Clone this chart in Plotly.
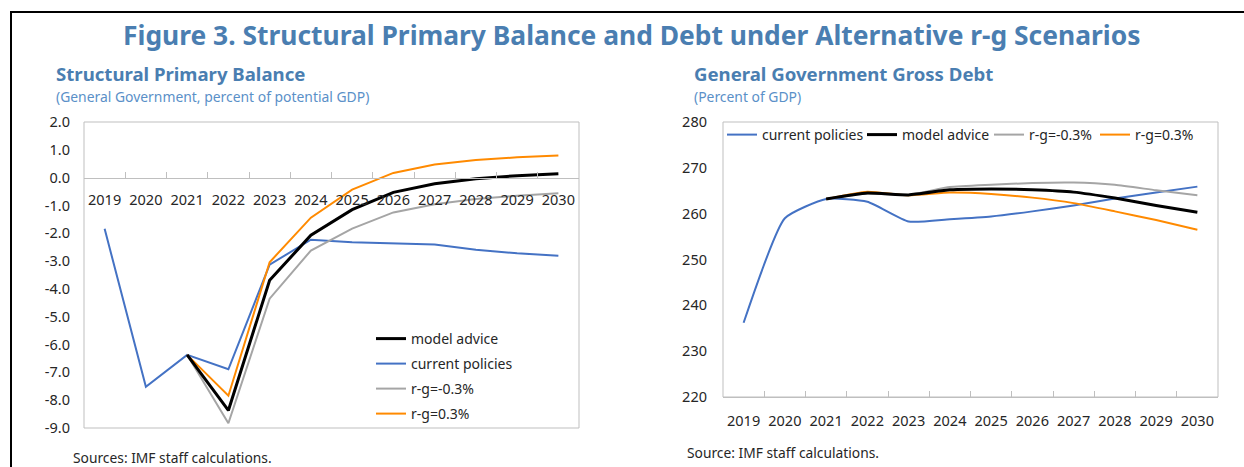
import plotly.graph_objects as go

# ---------------- data ----------------
years = ["2019", "2020", "2021", "2022", "2023", "2024", "2025", "2026", "2027", "2028", "2029", "2030"]

sbp_current = [-1.84, -7.52, -6.37, -6.89, -3.13, -2.23, -2.32, -2.36, -2.40, -2.59, -2.72, -2.81]
sbp_model = [None, None, -6.37, -8.37, -3.69, -2.07, -1.15, -0.53, -0.22, -0.04, 0.07, 0.14]
sbp_rg_neg = [None, None, -6.37, -8.83, -4.35, -2.62, -1.83, -1.25, -0.96, -0.77, -0.65, -0.56]
sbp_rg_pos = [None, None, -6.37, -7.84, -3.04, -1.44, -0.43, 0.17, 0.47, 0.63, 0.73, 0.80]

debt_current = [236.2, 259.0, 263.2, 262.6, 258.3, 258.8, 259.4, 260.5, 261.8, 263.3, 264.6, 265.9]
debt_model = [None, None, 263.2, 264.5, 264.1, 265.2, 265.4, 265.2, 264.7, 263.4, 261.8, 260.3]
debt_rg_neg = [None, None, 263.2, 264.4, 264.1, 265.8, 266.3, 266.7, 266.8, 266.3, 265.1, 264.0]
debt_rg_pos = [None, None, 263.2, 264.8, 264.0, 264.6, 264.3, 263.5, 262.3, 260.5, 258.6, 256.5]

left_ytick_vals = [2, 1, 0, -1, -2, -3, -4, -5, -6, -7, -8, -9]
left_ytick_text = ["2.0", "1.0", "0.0", "-1.0", "-2.0", "-3.0", "-4.0", "-5.0", "-6.0", "-7.0", "-8.0", "-9.0"]
right_ytick_vals = [220, 230, 240, 250, 260, 270, 280]

names = {"model": "model advice", "current": "current policies", "neg": "r-g=-0.3%", "pos": "r-g=0.3%"}

# ---------------- styles ----------------
W, H = 1244, 467
FONT = "Noto Sans"
TXT = "#262626"
AX = "#BFBFBF"
C_BLUE = "#4472C4"
C_BLACK = "#000000"
C_GRAY = "#A5A5A5"
C_ORANGE = "#FF8A00"
TITLE_C = "#4A7EB1"
SUB_C = "#5A90C8"


def px_x(x):
    return x / W


def px_y(y):
    return 1 - y / H


L_DOM_X = [px_x(84), px_x(579)]
L_DOM_Y = [px_y(428), px_y(122)]
R_DOM_X = [px_x(723), px_x(1218)]
R_DOM_Y = [px_y(397), px_y(122)]
zero_pos = L_DOM_Y[0] + (0 - (-9)) / 11 * (L_DOM_Y[1] - L_DOM_Y[0])

fig = go.Figure()

# left chart traces (draw order); each has its own legend box (vertical list)
left_series = [
    ("current", sbp_current, C_BLUE, 2, "legend6"),
    ("neg", sbp_rg_neg, C_GRAY, 2, "legend7"),
    ("pos", sbp_rg_pos, C_ORANGE, 2, "legend8"),
    ("model", sbp_model, C_BLACK, 3, "legend"),
]
for key, vals, col, w, lg in left_series:
    fig.add_trace(go.Scatter(
        x=years, y=vals, name=names[key], mode="lines",
        line=dict(color=col, width=w), xaxis="x", yaxis="y",
        legend=lg, legendgroup="L" + key,
    ))

# right chart traces
right_series = [
    ("current", debt_current, C_BLUE, 2, "legend2"),
    ("neg", debt_rg_neg, C_GRAY, 2, "legend4"),
    ("pos", debt_rg_pos, C_ORANGE, 2, "legend5"),
    ("model", debt_model, C_BLACK, 3, "legend3"),
]
for key, vals, col, w, lg in right_series:
    fig.add_trace(go.Scatter(
        x=years, y=vals, name=names[key], mode="lines",
        line=dict(color=col, width=w, shape="spline", smoothing=0.5),
        xaxis="x2", yaxis="y2", legend=lg, legendgroup="R" + key,
    ))

tickfont = dict(family=FONT, size=14.5, color=TXT)
legfont = dict(family=FONT, size=14, color=TXT)

xcommon = dict(
    type="category", range=[-0.5, 11.5], showgrid=False, zeroline=False,
    showline=True, linecolor=AX, linewidth=1, ticks="inside", tickson="boundaries",
    ticklen=6, tickcolor=AX, tickfont=tickfont, fixedrange=True,
    tickangle=0, automargin=False,
)
ycommon = dict(showgrid=False, zeroline=False, showline=False, ticks="",
               tickfont=tickfont, fixedrange=True, automargin=False)


def leg(xp, yp):
    return dict(x=px_x(xp), y=px_y(yp), xanchor="left", yanchor="middle",
                bgcolor="rgba(0,0,0,0)", font=legfont, itemwidth=30)


fig.update_layout(
    width=W, height=H, margin=dict(l=0, r=0, t=0, b=0, autoexpand=False),
    paper_bgcolor="white", plot_bgcolor="white",
    font=dict(family=FONT, color=TXT),
    xaxis=dict(domain=L_DOM_X, anchor="free", position=zero_pos, ticklabelstandoff=9, **xcommon),
    yaxis=dict(domain=L_DOM_Y, anchor="free", position=L_DOM_X[0], range=[-9, 2],
               tickmode="array", tickvals=left_ytick_vals, ticktext=left_ytick_text,
               ticklabelstandoff=14, **ycommon),
    xaxis2=dict(domain=R_DOM_X, anchor="y2", ticklabelstandoff=11, **xcommon),
    yaxis2=dict(domain=R_DOM_Y, anchor="x2", range=[220, 280],
                tickmode="array", tickvals=right_ytick_vals,
                ticklabelstandoff=15, **ycommon),
    showlegend=True,
    # left chart legend (vertical list)
    legend=leg(371, 339),
    legend6=leg(371, 364),
    legend7=leg(371, 389),
    legend8=leg(371, 414),
    # right chart legend (horizontal row)
    legend2=leg(722, 135),
    legend3=leg(862, 135),
    legend4=leg(989, 135),
    legend5=leg(1095, 135),
)

# plot-area frames
for xr, yr in [("x domain", "y domain"), ("x2 domain", "y2 domain")]:
    fig.add_shape(type="rect", xref=xr, yref=yr, x0=0, x1=1, y0=0, y1=1,
                  line=dict(color=AX, width=1), layer="below")

# outer black frame (cut off at right and bottom)
fig.add_shape(type="rect", xref="paper", yref="paper",
              x0=px_x(11), x1=1.05, y0=-0.05, y1=px_y(12),
              line=dict(color="black", width=2))

annots = [
    dict(text="<b>Figure 3. Structural Primary Balance and Debt under Alternative r-g Scenarios</b>",
         x=px_x(631), y=px_y(35), xanchor="center", size=26.4, color=TITLE_C),
    dict(text="<b>Structural Primary Balance</b>", x=px_x(54), y=px_y(74), xanchor="left", size=18.6, color=TITLE_C),
    dict(text="(General Government, percent of potential GDP)", x=px_x(54), y=px_y(96), xanchor="left", size=13.9, color=SUB_C),
    dict(text="<b>General Government Gross Debt</b>", x=px_x(692), y=px_y(74), xanchor="left", size=18.6, color=TITLE_C),
    dict(text="(Percent of GDP)", x=px_x(692), y=px_y(96), xanchor="left", size=13.9, color=SUB_C),
    dict(text="Sources: IMF staff calculations.", x=px_x(71), y=px_y(457), xanchor="left", size=13.8, color=TXT),
    dict(text="Source: IMF staff calculations.", x=px_x(685), y=px_y(452), xanchor="left", size=13.8, color=TXT),
]
for a in annots:
    fig.add_annotation(text=a["text"], x=a["x"], y=a["y"], xref="paper", yref="paper",
                       xanchor=a["xanchor"], yanchor="middle", showarrow=False,
                       font=dict(family=FONT, size=a["size"], color=a["color"]))

fig.write_html("out.html", config={"displayModeBar": False},
               post_script="document.body.style.margin='0px';")
